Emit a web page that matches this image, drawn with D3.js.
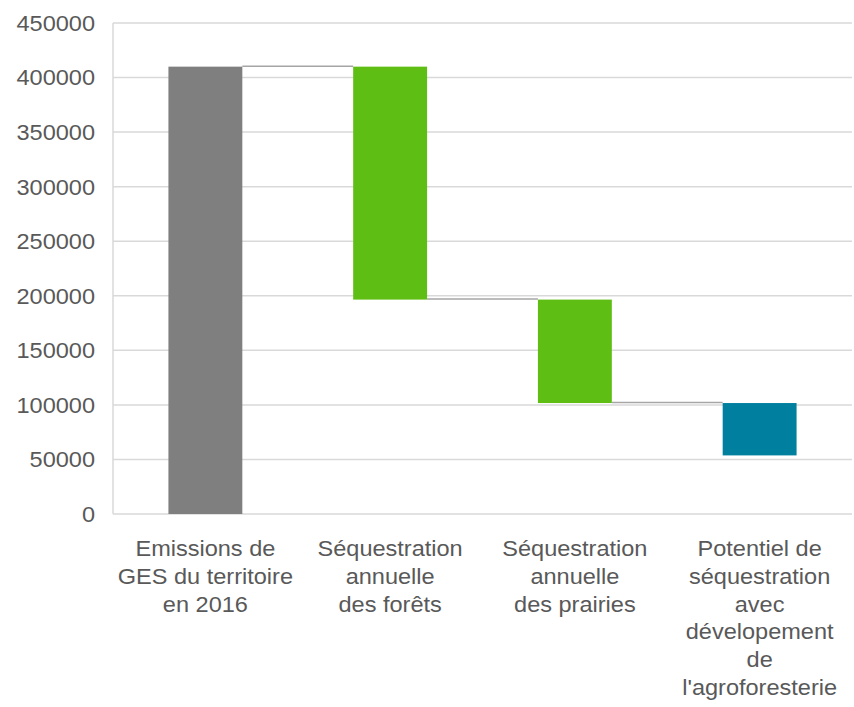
<!DOCTYPE html>
<html>
<head>
<meta charset="utf-8">
<script src="https://cdn.jsdelivr.net/npm/d3@7"></script>
<style>
  body { margin: 0; background: #fff; }
  text { font-family: "Liberation Sans", Arial, sans-serif; fill: #595959; }
</style>
</head>
<body>
<div id="chart"></div>
<script>
// categories (label lines) and waterfall levels
const categories = [
    ['Emissions de', 'GES du territoire', 'en 2016'],
    ['Séquestration', 'annuelle', 'des forêts'],
    ['Séquestration', 'annuelle', 'des prairies'],
    ['Potentiel de', 'séquestration', 'avec', 'dévelopement', 'de', "l'agroforesterie"]
];
const barStart = [0, 410000, 196500, 101700];
const barEnd = [410000, 196500, 101700, 53700];
const barColors = ['#7f7f7f', '#5fbe13', '#5fbe13', '#007f9f'];
const yTicks = [0, 50000, 100000, 150000, 200000, 250000, 300000, 350000, 400000, 450000];

const width = 854;
const height = 707;
const margin = { top: 23, left: 113, right: 2, bottom: 193 };

const svg = d3.select('#chart')
    .append('svg')
    .attr('width', width)
    .attr('height', height);

const x = d3.scaleBand()
    .domain(d3.range(categories.length))
    .range([margin.left, width - margin.right])
    .paddingInner(0.6)
    .paddingOuter(0.3);

const y = d3.scaleLinear()
    .domain([0, 450000])
    .range([height - margin.bottom, margin.top]);

// gridlines
svg.append('g')
    .selectAll('line')
    .data(yTicks)
    .enter()
    .append('line')
    .attr('x1', margin.left)
    .attr('x2', width - margin.right)
    .attr('y1', d => y(d))
    .attr('y2', d => y(d))
    .attr('stroke', '#d9d9d9')
    .attr('stroke-width', 1.5);

// left axis line
svg.append('line')
    .attr('x1', margin.left)
    .attr('x2', margin.left)
    .attr('y1', y(450000))
    .attr('y2', y(0))
    .attr('stroke', '#d9d9d9')
    .attr('stroke-width', 1.5);

// tick labels
svg.append('g')
    .selectAll('text')
    .data(yTicks)
    .enter()
    .append('text')
    .attr('x', 95)
    .attr('y', d => y(d))
    .attr('dy', '0.36em')
    .attr('text-anchor', 'end')
    .style('font-size', '22px')
    .attr('transform', d => `translate(95,0) scale(1.07,1) translate(-95,0)`)
    .text(d => d);

// bars
svg.append('g')
    .selectAll('rect')
    .data(barStart)
    .enter()
    .append('rect')
    .attr('x', (d, i) => x(i))
    .attr('width', x.bandwidth())
    .attr('y', (d, i) => y(Math.max(d, barEnd[i])))
    .attr('height', (d, i) => Math.abs(y(d) - y(barEnd[i])))
    .attr('fill', (d, i) => barColors[i]);

// connectors
svg.append('g')
    .selectAll('line')
    .data(barEnd.slice(0, -1))
    .enter()
    .append('line')
    .attr('x1', (d, i) => x(i) + x.bandwidth())
    .attr('x2', (d, i) => x(i + 1))
    .attr('y1', d => y(d) - 0.5)
    .attr('y2', d => y(d) - 0.5)
    .attr('stroke', '#a6a6a6')
    .attr('stroke-width', 1.5);

// category labels
const labels = svg.append('g')
    .selectAll('text')
    .data(categories)
    .enter()
    .append('text')
    .attr('text-anchor', 'middle')
    .style('font-size', '22px')
    .attr('transform', (d, i) => {
        const cx = x(i) + x.bandwidth() / 2;
        return `translate(${cx},556) scale(1.07,1)`;
    });

labels.selectAll('tspan')
    .data(d => d)
    .enter()
    .append('tspan')
    .attr('x', 0)
    .attr('y', (d, i) => i * 27.8)
    .text(d => d);
</script>
</body>
</html>
